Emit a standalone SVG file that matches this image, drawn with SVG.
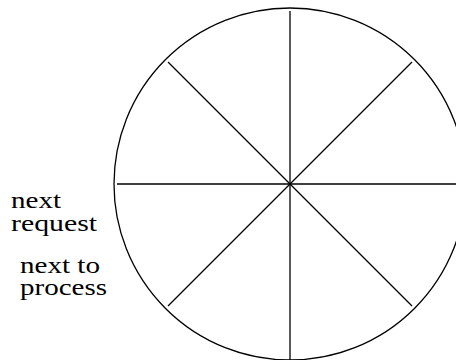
<svg xmlns="http://www.w3.org/2000/svg" width="456" height="360" viewBox="0 0 456 360">
<style>
.ln{stroke:#000;stroke-width:1.3;fill:none}
text{font-family:'Liberation Serif','Times New Roman',Times,serif;font-size:24px;fill:#000}
</style>
<rect width="456" height="360" fill="#fff"/>
<g id="wheel">
<circle class="ln" cx="290" cy="184" r="176"/>
</g>
<g id="connectors">
<line class="ln" x1="290" y1="11" x2="290" y2="360"/>
<line class="ln" x1="117" y1="184" x2="456" y2="184"/>
<line class="ln" x1="168" y1="62" x2="412" y2="306"/>
<line class="ln" x1="168" y1="306" x2="412" y2="62"/>
</g>
<g id="label-next-request">
<text x="11" y="208" textLength="50" lengthAdjust="spacingAndGlyphs">next</text>
<text x="11" y="231" textLength="86" lengthAdjust="spacingAndGlyphs">request</text>
</g>
<g id="label-next-to-process">
<text x="20" y="273" textLength="80" lengthAdjust="spacingAndGlyphs">next to</text>
<text x="20" y="295" textLength="87" lengthAdjust="spacingAndGlyphs">process</text>
</g>
</svg>
